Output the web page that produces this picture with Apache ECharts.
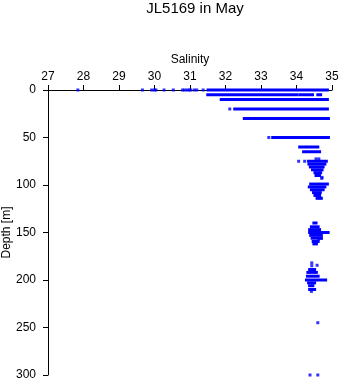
<!DOCTYPE html>
<html>
<head>
<meta charset="utf-8">
<script src="https://cdn.jsdelivr.net/npm/echarts@6/dist/echarts.min.js"></script>
<style>html,body{margin:0;padding:0;background:#fff}#c{width:341px;height:384px}</style>
</head>
<body>
<div id="c"></div>
<script>
// Salinity ticks and depth ticks
const salinityTicks = [27, 28, 29, 30, 31, 32, 33, 34, 35];
const depthTicks = [0, 50, 100, 150, 200, 250, 300];

// Dense runs of samples: [depth, salinityStart, salinityEnd]
const runs = [
  [0, 31.51, 34.87],
  [5, 31.50, 34.00], [5, 34.09, 34.45], [5, 34.60, 34.68],
  [10, 31.88, 34.87],
  [20, 32.26, 34.87],
  [30, 32.53, 34.90],
  [50, 33.33, 34.90],
  [60, 34.09, 34.25], [60, 34.32, 34.60],
  [65, 34.20, 34.65],
  [75, 34.34, 34.84], [78, 34.35, 34.80], [81, 34.39, 34.75], [84, 34.45, 34.72],
  [87, 34.52, 34.68], [90, 34.55, 34.65],
  [99, 34.40, 34.87], [102, 34.36, 34.80], [105, 34.42, 34.75], [108, 34.48, 34.67],
  [111, 34.52, 34.65], [114, 34.58, 34.70],
  [140, 34.49, 34.55], [144, 34.42, 34.61], [147, 34.37, 34.65], [150, 34.37, 34.89],
  [153, 34.40, 34.70], [156, 34.44, 34.70], [159.5, 34.47, 34.61], [162, 34.49, 34.56],
  [189, 34.37, 34.51], [192, 34.32, 34.56], [196, 34.31, 34.61], [200, 34.28, 34.82],
  [203, 34.34, 34.51], [206, 34.37, 34.46], [210, 34.37, 34.51]
];

// Isolated samples: [salinity, depth]
const samples = [
  [27.84, 0], [29.66, 0], [29.92, 0], [30.00, 0], [30.04, 0], [30.27, 0], [30.53, 0],
  [30.79, 0], [30.85, 0], [30.92, 0], [30.98, 0], [31.02, 0], [31.12, 0], [31.19, 0], [31.37, 0],
  [32.12, 20], [33.22, 50],
  [34.06, 75], [34.23, 75], [34.55, 72.5], [34.63, 72.5],
  [34.72, 92], [34.71, 93],
  [34.66, 113.5],
  [34.70, 156], [34.62, 157],
  [34.43, 182], [34.58, 184.5], [34.43, 185], [34.42, 212],
  [34.60, 245], [34.38, 300], [34.60, 300]
];

const chart = echarts.init(document.getElementById('c'), null, {renderer: 'canvas'});
const FONT = 'Liberation Sans, Arial, sans-serif';
chart.setOption({
  animation: false,
  backgroundColor: '#ffffff',
  title: {
    text: 'JL5169 in May',
    left: 190,
    textAlign: 'center',
    top: -4,
    textStyle: {fontFamily: FONT, fontSize: 15, fontWeight: 'normal', color: '#000'}
  },
  grid: {left: 48, right: 9, top: 90, bottom: 9, containLabel: false, outerBoundsMode: 'none'},
  xAxis: {
    type: 'value', position: 'top',
    min: salinityTicks[0], max: salinityTicks[salinityTicks.length - 1], interval: 1,
    name: 'Salinity', nameLocation: 'middle', nameGap: 22,
    nameTextStyle: {fontFamily: FONT, fontSize: 12, color: '#000'},
    axisLine: {show: true, onZero: false, lineStyle: {color: '#000', width: 1}},
    axisTick: {show: true, inside: false, length: 5, lineStyle: {color: '#000'}},
    axisLabel: {fontFamily: FONT, fontSize: 12, color: '#000', margin: 7,
      formatter: v => salinityTicks.includes(v) ? String(v) : ''},
    splitLine: {show: false}
  },
  yAxis: {
    type: 'value', inverse: true,
    min: depthTicks[0], max: depthTicks[depthTicks.length - 1], interval: 50,
    name: 'Depth [m]', nameLocation: 'middle', nameGap: 35, nameMoveOverlap: false,
    nameTextStyle: {fontFamily: FONT, fontSize: 12, color: '#000'},
    axisLine: {show: true, onZero: false, lineStyle: {color: '#000', width: 1}},
    axisTick: {show: true, inside: false, length: 5, lineStyle: {color: '#000'}},
    axisLabel: {fontFamily: FONT, fontSize: 12, color: '#000', margin: 12,
      formatter: v => depthTicks.includes(v) ? String(v) : ''},
    splitLine: {show: false}
  },
  series: [
    {
      type: 'custom',
      data: runs,
      encode: {x: [1, 2], y: 0},
      clip: false,
      renderItem: function (params, api) {
        const a = api.coord([api.value(1), api.value(0)]);
        const b = api.coord([api.value(2), api.value(0)]);
        return {
          type: 'rect',
          shape: {x: a[0] - 1.5, y: a[1] - 1.5, width: b[0] - a[0] + 3, height: 3},
          style: {fill: '#0000ff'}
        };
      },
      z: 3
    },
    {
      type: 'scatter',
      data: samples,
      symbol: 'rect',
      symbolSize: 3,
      itemStyle: {color: '#0000ff'},
      clip: false,
      z: 3
    }
  ]
});
</script>
</body>
</html>
